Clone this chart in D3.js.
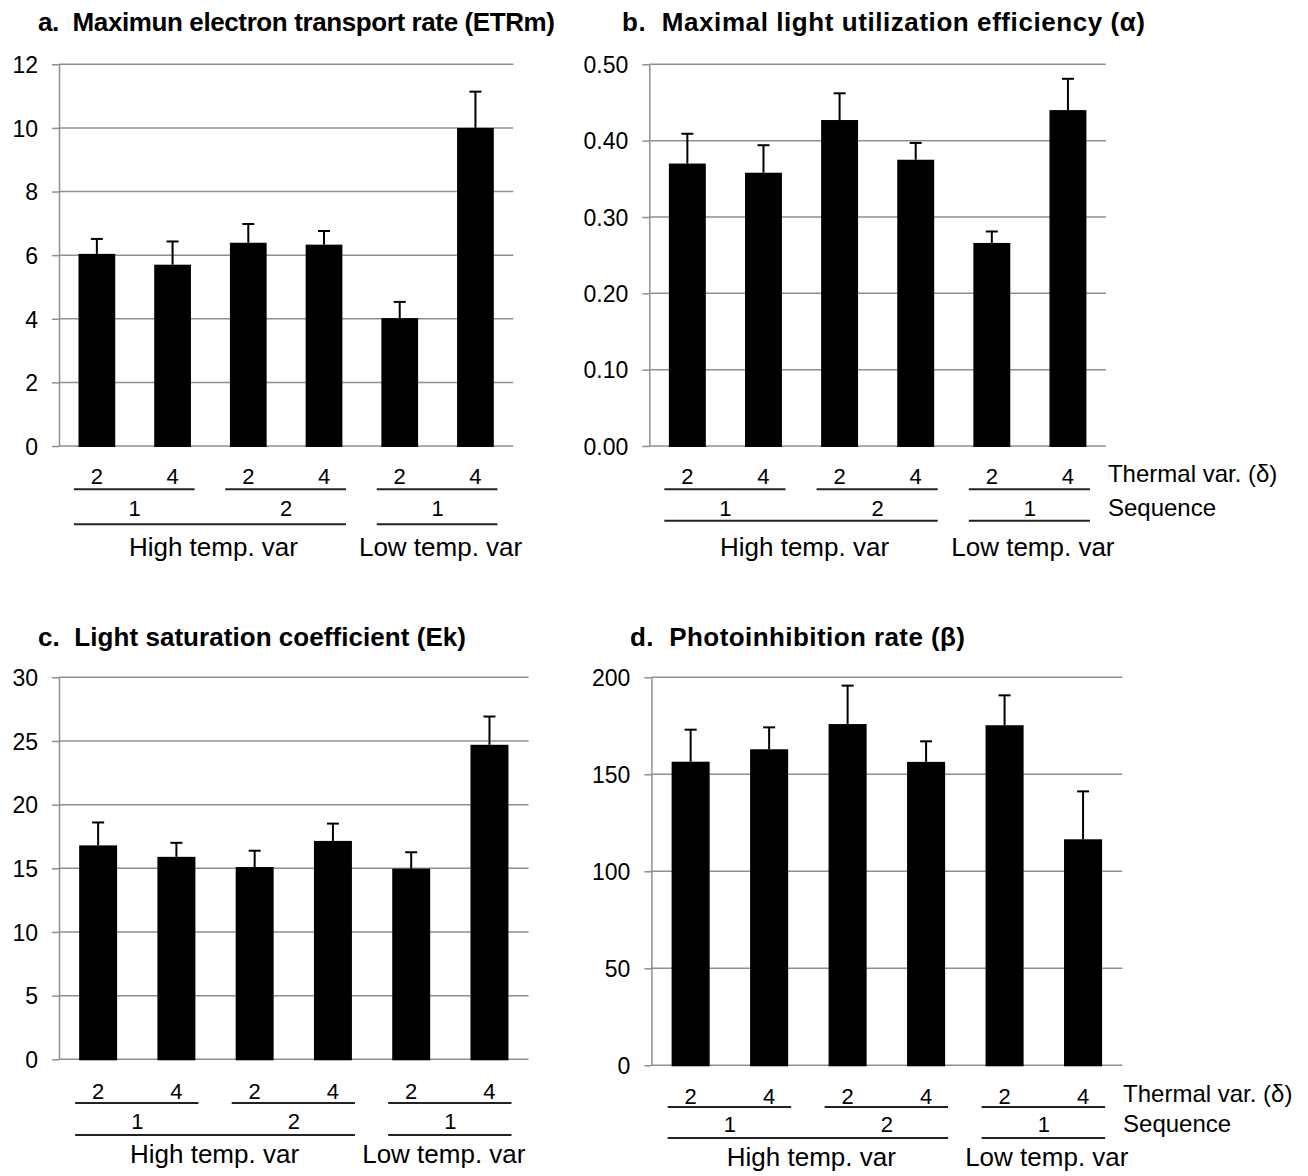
<!DOCTYPE html>
<html>
<head>
<meta charset="utf-8">
<script src="https://cdn.jsdelivr.net/npm/d3@7"></script>
<style>
  html, body { margin: 0; padding: 0; background: #fff; }
  svg { display: block; font-family: "Liberation Sans", Arial, sans-serif; }
  text { white-space: pre; }
</style>
</head>
<body>
<svg id="chart" width="1308" height="1176"></svg>
<script>
// Treatments along the x axis
const thermalVar = ["2", "4", "2", "4", "2", "4"];
const sequenceLabels = ["1", "2", "1"];
const sequenceGroups = [[0, 1], [2, 3], [4, 5]];
const regimeLabels = ["High temp. var", "Low temp. var"];
const regimeGroups = [[0, 3], [4, 5]];

// a. Maximum electron transport rate
const etrmMean = [6.04, 5.70, 6.39, 6.33, 4.02, 10.00];
const etrmSE   = [0.47, 0.73, 0.59, 0.43, 0.51, 1.14];
const etrmTicks = [0, 2, 4, 6, 8, 10, 12];

// b. Maximal light utilization efficiency
const alphaMean = [0.370, 0.358, 0.427, 0.375, 0.266, 0.440];
const alphaSE   = [0.039, 0.036, 0.035, 0.022, 0.015, 0.041];
const alphaTicks = [0, 0.1, 0.2, 0.3, 0.4, 0.5];

// c. Light saturation coefficient
const ekMean = [16.8, 15.9, 15.1, 17.15, 14.97, 24.7];
const ekSE   = [1.8, 1.1, 1.28, 1.36, 1.29, 2.22];
const ekTicks = [0, 5, 10, 15, 20, 25, 30];

// d. Photoinhibition rate
const betaMean = [156.5, 162.9, 175.9, 156.4, 175.3, 116.5];
const betaSE   = [16.5, 11.3, 19.8, 10.6, 15.4, 24.7];
const betaTicks = [0, 50, 100, 150, 200];

const panels = [
  { title: "a.  Maximun electron transport rate (ETRm)", titleLen: 517, mean: etrmMean, se: etrmSE, ticks: etrmTicks, fmt: d3.format("d"),
    left: 59, right: 513.3, top: 64.3, bottom: 446, titleX: 38, titleY: 31, regimeShift: [0, 0],
    rows: { delta: 484, line1: 489.3, seq: 516, line2: 524.3, regime: 556 }, side: false },
  { title: "b.  Maximal light utilization efficiency (α)", titleLen: 523, mean: alphaMean, se: alphaSE, ticks: alphaTicks, fmt: d3.format(".2f"),
    left: 649.3, right: 1106, top: 64.3, bottom: 446, titleX: 622, titleY: 31, regimeShift: [0, 0],
    rows: { delta: 484, line1: 489.3, seq: 516, line2: 520.7, regime: 556 }, side: true },
  { title: "c.  Light saturation coefficient (Ek)", titleLen: 428, mean: ekMean, se: ekSE, ticks: ekTicks, fmt: d3.format("d"),
    left: 59, right: 528.6, top: 677.3, bottom: 1059.3, titleX: 38, titleY: 646, regimeShift: [-4, -9.5],
    rows: { delta: 1098.5, line1: 1103, seq: 1128.5, line2: 1135, regime: 1163 }, side: false },
  { title: "d.  Photoinhibition rate (β)", titleLen: 335, mean: betaMean, se: betaSE, ticks: betaTicks, fmt: d3.format("d"),
    left: 651.4, right: 1122.3, top: 677.3, bottom: 1065.3, titleX: 630, titleY: 646, regimeShift: [0, 0],
    rows: { delta: 1103.5, line1: 1107, seq: 1131.5, line2: 1138, regime: 1166 }, side: true }
];

const svg = d3.select("#chart");
const gridColor = "#8f8f8f";
const gap = 0.515;

panels.forEach(p => {
  const g = svg.append("g");
  const n = thermalVar.length;

  const x = d3.scaleBand()
    .domain(d3.range(n))
    .range([p.left, p.right])
    .paddingInner(gap)
    .paddingOuter(gap / 2);
  const cx = i => x(i) + x.bandwidth() / 2;

  const y = d3.scaleLinear()
    .domain([0, d3.max(p.ticks)])
    .range([p.bottom, p.top]);

  // Title
  g.append("text")
    .attr("x", p.titleX).attr("y", p.titleY)
    .attr("font-size", 26).attr("font-weight", "bold").attr("fill", "#000")
    .attr("textLength", p.titleLen).attr("lengthAdjust", "spacing")
    .text(p.title);

  // Horizontal gridlines
  g.append("g").selectAll("line").data(p.ticks).join("line")
    .attr("x1", p.left).attr("x2", p.right)
    .attr("y1", d => y(d)).attr("y2", d => y(d))
    .attr("stroke", gridColor).attr("stroke-width", 1.5);

  // Value axis with outward ticks
  const axis = g.append("g")
    .attr("transform", `translate(${p.left},0)`)
    .call(d3.axisLeft(y).tickValues(p.ticks).tickFormat(p.fmt).tickSize(7).tickSizeOuter(0).tickPadding(14));
  axis.select(".domain").attr("stroke", gridColor).attr("stroke-width", 1.5);
  axis.selectAll(".tick line").attr("stroke", gridColor).attr("stroke-width", 1.5);
  axis.selectAll(".tick text")
    .attr("font-size", 23).attr("fill", "#000")
    .attr("font-family", "'Liberation Sans', Arial, sans-serif")
    .attr("dy", "0.36em");

  // Bars
  g.append("g").selectAll("rect").data(p.mean).join("rect")
    .attr("x", (d, i) => x(i))
    .attr("width", x.bandwidth())
    .attr("y", d => y(d))
    .attr("height", d => y(0) - y(d) + 1)
    .attr("fill", "#000");

  // Upper error bars
  const eb = g.append("g").attr("stroke", "#000").attr("stroke-width", 2);
  p.mean.forEach((m, i) => {
    const top = y(m + p.se[i]);
    eb.append("line").attr("x1", cx(i)).attr("x2", cx(i)).attr("y1", y(m)).attr("y2", top);
    eb.append("line").attr("x1", cx(i) - 6).attr("x2", cx(i) + 6).attr("y1", top).attr("y2", top);
  });

  // Category annotation rows beneath the plot
  const ann = g.append("g").attr("fill", "#000");
  const lineStyle = sel => sel.attr("stroke", "#222").attr("stroke-width", 2);

  ann.selectAll("text.delta").data(thermalVar).join("text")
    .attr("class", "delta")
    .attr("x", (d, i) => cx(i)).attr("y", p.rows.delta)
    .attr("text-anchor", "middle").attr("font-size", 22)
    .text(d => d);

  sequenceGroups.forEach((grp, k) => {
    ann.append("line").call(lineStyle)
      .attr("x1", cx(grp[0]) - 23).attr("x2", cx(grp[1]) + 22)
      .attr("y1", p.rows.line1).attr("y2", p.rows.line1);
    ann.append("text")
      .attr("x", (cx(grp[0]) + cx(grp[1])) / 2).attr("y", p.rows.seq)
      .attr("text-anchor", "middle").attr("font-size", 22)
      .text(sequenceLabels[k]);
  });

  regimeGroups.forEach((grp, k) => {
    ann.append("line").call(lineStyle)
      .attr("x1", cx(grp[0]) - 23).attr("x2", cx(grp[1]) + 22)
      .attr("y1", p.rows.line2).attr("y2", p.rows.line2);
    ann.append("text")
      .attr("x", (cx(grp[0]) + cx(grp[1])) / 2 + 3 + p.regimeShift[k]).attr("y", p.rows.regime)
      .attr("text-anchor", "middle").attr("font-size", 26)
      .text(regimeLabels[k]);
  });

  if (p.side) {
    const sx = cx(n - 1) + 40;
    ann.append("text").attr("x", sx).attr("y", p.rows.delta - 2)
      .attr("font-size", 24).text("Thermal var. (δ)");
    ann.append("text").attr("x", sx).attr("y", p.rows.seq)
      .attr("font-size", 24).text("Sequence");
  }
});
</script>
</body>
</html>
